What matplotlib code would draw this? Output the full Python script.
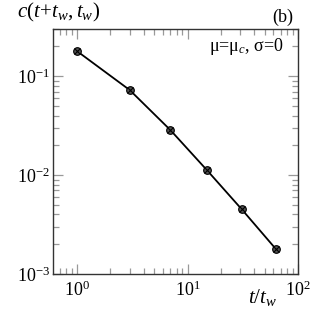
import numpy as np
import matplotlib
matplotlib.use('Agg')
import matplotlib.pyplot as plt
from matplotlib.ticker import LogLocator, NullFormatter

plt.rcParams['font.family'] = 'Liberation Serif'
plt.rcParams['mathtext.fontset'] = 'custom'
plt.rcParams['mathtext.rm'] = 'Liberation Serif'
plt.rcParams['mathtext.it'] = 'Liberation Serif:italic'

t_ratio = [1, 3, 7, 15, 31, 63]
corr = [0.179, 0.0723, 0.0285, 0.0112, 0.0045, 0.00179]

fig = plt.figure(figsize=(3.27, 3.27), dpi=100)
ax = fig.add_axes([53/327, 1 - 274/327, 245/327, 245/327])

ax.plot(t_ratio, corr, '-', color='black', lw=1.3)
ax.plot(t_ratio, corr, 'o', ms=5.5, mfc='#555555', mec='black', mew=0.8)
ax.plot(t_ratio, corr, 'x', ms=4.5, color='black', mew=0.8)

ax.set_xscale('log')
ax.set_yscale('log')
ax.set_xlim(0.605, 100)
ax.set_ylim(1e-3, 0.3)

ax.xaxis.set_major_locator(LogLocator(base=10, numticks=10))
ax.xaxis.set_minor_locator(LogLocator(base=10, subs=np.arange(2, 10), numticks=10))
ax.yaxis.set_minor_locator(LogLocator(base=10, subs=np.arange(2, 10), numticks=10))
ax.xaxis.set_minor_formatter(NullFormatter())
ax.yaxis.set_minor_formatter(NullFormatter())

ax.tick_params(which='both', direction='in', top=True, right=True, labelsize=13)
ax.tick_params(axis='x', pad=5)
ax.tick_params(axis='y', pad=2)
ax.tick_params(which='major', length=7, width=0.9, color='#999999')
ax.tick_params(which='minor', length=4, width=0.9, color='#999999')
for s in ax.spines.values():
    s.set_linewidth(1.0)
    s.set_color('#333333')

fig.text(17/327, 1 - 12/327, r'$c(t\!+\!t_w,t_w)$', fontsize=15, va='center', ha='left')
fig.text(293/327, 1 - 17/327, '(b)', fontsize=13, va='center', ha='right')
ax.text(0.94, 0.93, r'μ=μ$_c$, σ=0', transform=ax.transAxes, fontsize=13, ha='right', va='center')
fig.text(263/327, 1 - 297/327, r'$t/t_w$', fontsize=15, va='center', ha='center')

fig.savefig('out.png', dpi=100)
